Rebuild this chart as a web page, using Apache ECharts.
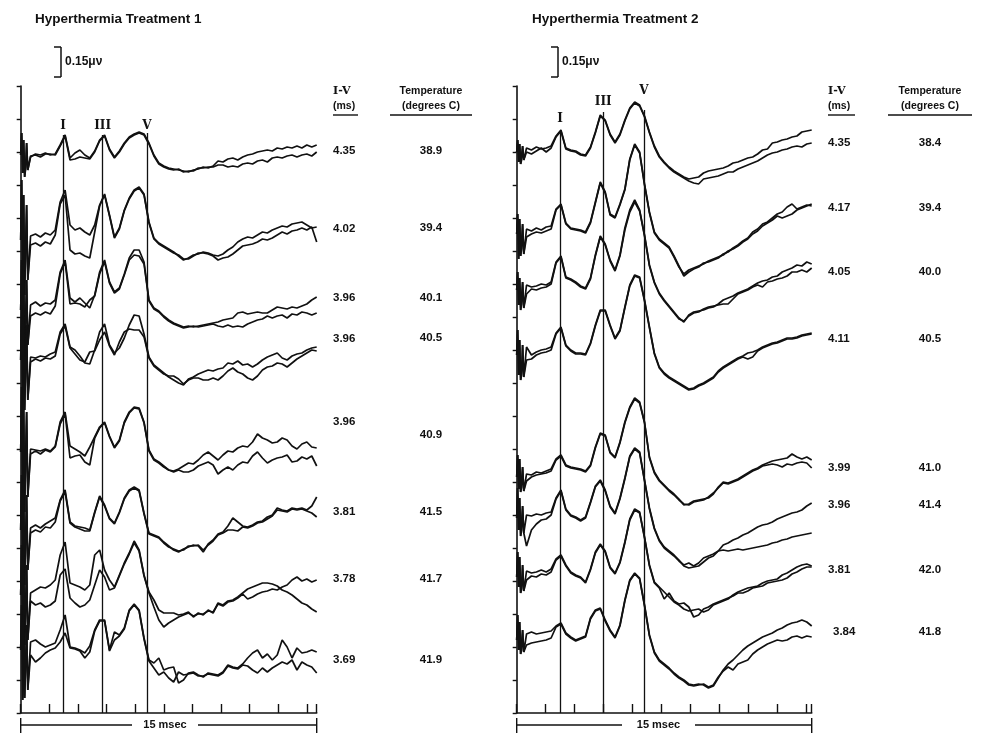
<!DOCTYPE html>
<html>
<head>
<meta charset="utf-8">
<title>Hyperthermia Treatment ABR traces</title>
<script src="https://cdn.jsdelivr.net/npm/echarts@6/dist/echarts.min.js"></script>
<style>
  html, body { margin: 0; background: #fff; }
  #chart { width: 981px; height: 737px; }
</style>
</head>
<body>
<div id="chart"></div>
<script>
// amplitudes are in units of 0.005 uV (the 0.15 uV bar = 30 units), sampled every 0.25 ms
const X_STEP = 0.25;
const ART_X = [0.05, 0.1, 0.15, 0.2, 0.3, 0.36]; // stimulus artifact samples, ms

const titles = ['Hyperthermia Treatment 1', 'Hyperthermia Treatment 2'];
const waveNames = ['I', 'III', 'V'];
const waveLatency1 = [2.15, 4.15, 6.4];
const waveLatency2 = [2.2, 4.4, 6.47];

const ivValues1 = ['4.35', '4.02', '3.96', '3.96', '3.96', '3.81', '3.78', '3.69'];
const tempValues1 = ['38.9', '39.4', '40.1', '40.5', '40.9', '41.5', '41.7', '41.9'];
const ivValues2 = ['4.35', '4.17', '4.05', '4.11', '3.99', '3.96', '3.81', '3.84'];
const tempValues2 = ['38.4', '39.4', '40.0', '40.5', '41.0', '41.4', '42.0', '41.8'];

// treatment 1, two overlaid recordings per temperature
const treatment1A = [
  [0,-12,-2,1,0,2,0,1,10,20,-3,2,5,0,-3,4,15,20,6,-2,4,12,18,21,23,21,12,0,-8,-11,-13,-14,-15,-16,-17,-15,-14,-12,-13,-11,-6,-7,-4,-3,-5,-2,0,1,3,4,5,4,7,6,8,7,9,7,10,8,10],
  [0,-7,4,6,3,7,5,10,38,50,15,10,12,8,5,15,35,46,25,3,12,30,42,50,53,46,18,2,-3,-6,-9,-12,-16,-20,-18,-15,-14,-12,-13,-15,-16,-14,-10,-7,-2,1,3,2,5,8,7,10,12,14,13,16,17,18,15,12,13],
  [0,-8,5,8,4,7,6,10,38,50,12,8,12,7,2,15,38,50,28,18,22,36,52,60,60,48,10,2,-1,-6,-10,-13,-15,-17,-16,-17,-16,-15,-14,-13,-12,-10,-9,-8,-3,-2,-4,-3,-2,-3,-3,0,3,2,1,3,2,4,6,10,13],
  [0,-5,3,2,4,3,6,8,28,36,13,10,4,-3,-4,10,28,36,15,7,12,22,35,45,44,26,3,-5,-9,-13,-17,-20,-23,-25,-19,-17,-14,-12,-10,-11,-9,-8,-3,-4,-1,-5,-4,-7,-4,0,3,5,7,2,0,4,6,7,10,12,13],
  [0,-6,3,2,1,3,1,6,30,40,6,3,0,-4,5,15,25,30,16,5,12,30,40,45,44,30,2,-7,-10,-14,-18,-19,-17,-14,-11,-12,-8,-3,0,-4,-8,-3,1,0,4,6,5,10,18,14,12,9,10,14,12,6,3,8,10,5,4],
  [0,-8,2,5,2,6,9,12,30,40,8,4,3,2,0,18,34,25,12,7,18,32,40,43,40,17,-3,-5,-7,-12,-16,-20,-22,-19,-17,-15,-16,-22,-14,-10,-4,-2,4,12,8,4,3,5,8,9,13,15,22,20,19,22,21,22,20,24,33],
  [0,-10,2,5,8,7,10,15,40,53,12,10,8,5,10,40,45,25,15,8,20,32,42,54,45,20,3,-5,-15,-18,-18,-18,-20,-19,-17,-22,-18,-20,-15,-18,-8,-10,-6,-5,-2,2,6,8,10,12,12,11,9,5,3,0,-4,-8,-10,-14,-17],
  [0,-12,8,10,6,3,5,7,20,35,3,2,0,-3,4,20,30,30,0,18,15,22,40,46,40,12,-10,-13,-8,-20,-18,-17,-33,-30,-23,-22,-25,-27,-23,-24,-25,-22,-15,-17,-18,-14,-8,-3,0,-8,-4,-10,-5,10,3,-8,2,-3,-2,0,-2]
];
const treatment1B = [
  [0,-14,-1,0,-2,1,1,0,9,19,-5,-4,-2,-3,-4,3,14,19,5,-3,3,11,17,20,22,20,11,-1,-9,-12,-14,-15,-14,-17,-16,-16,-13,-13,-12,-12,-10,-10,-12,-11,-12,-9,-8,-9,-6,-5,-7,-3,-2,-3,-1,0,-2,0,1,-1,3],
  [0,-10,-5,-3,-6,-2,-4,5,36,45,-10,-14,-13,-16,-18,8,34,45,24,2,11,29,41,49,52,45,17,1,-4,-7,-10,-13,-15,-19,-19,-16,-13,-13,-14,-16,-20,-18,-17,-14,-10,-6,-5,-4,-2,1,0,2,5,8,6,9,10,12,10,13,-2],
  [0,-12,-6,-3,-5,-2,-4,4,36,48,6,7,6,3,10,14,36,48,27,17,21,35,50,55,54,46,9,1,-2,-7,-11,-14,-16,-18,-17,-16,-17,-16,-15,-14,-16,-17,-15,-17,-16,-17,-14,-12,-10,-9,-6,-8,-6,-5,-8,-4,-5,-2,-3,-5,-3],
  [0,-8,-2,1,-1,2,1,4,26,34,12,6,0,-2,8,9,20,28,14,5,18,28,31,30,30,23,2,-6,-10,-14,-16,-16,-19,-24,-20,-18,-18,-20,-20,-18,-20,-16,-11,-8,-12,-14,-18,-20,-16,-10,-7,-6,-3,-4,-7,-3,1,4,7,10,9],
  [0,-10,-2,1,-2,2,0,5,28,38,-6,-4,-3,-10,-13,14,24,29,15,4,11,29,39,44,43,29,1,-8,-11,-15,-18,-20,-18,-20,-20,-18,-14,-12,-10,-13,-22,-18,-15,-18,-13,-10,-11,-4,0,-6,-11,-8,-6,-5,-3,-10,-9,-5,-7,-4,-14],
  [0,-12,-3,0,-2,3,2,8,29,38,7,3,1,-1,-1,17,33,24,11,6,17,31,39,42,39,16,-4,-6,-8,-13,-17,-19,-21,-20,-16,-16,-15,-20,-15,-11,-5,-3,0,0,-1,3,2,4,7,8,11,14,20,19,18,21,20,21,19,17,13],
  [0,-14,-6,-10,-8,-12,-10,-6,20,26,-3,-8,-12,-10,-5,10,25,18,5,7,19,31,41,52,44,19,2,-12,-25,-32,-28,-25,-22,-20,-18,-21,-19,-19,-16,-17,-9,-11,-7,-6,-3,1,-4,-2,1,3,4,6,5,8,10,15,18,14,16,13,15],
  [0,-18,-5,-12,-8,-3,0,2,8,17,2,1,-1,-8,-2,19,29,29,-1,10,14,21,39,45,39,11,-11,-18,-25,-22,-28,-32,-22,-25,-24,-23,-26,-26,-24,-25,-26,-23,-16,-18,-19,-15,-16,-20,-23,-18,-22,-18,-15,-12,-14,-10,-20,-12,-15,-17,-23]
];
const artifact1 = [
  [22,-18,15,-22,12,-15], [60,-50,45,-55,35,-40], [50,-45,40,-50,30,-35], [55,-60,45,-50,35,-40],
  [65,-55,50,-60,40,-45], [55,-50,45,-55,35,-40], [50,-55,40,-50,30,-45], [45,-50,35,-48,25,-40]
];

// treatment 2
const treatment2A = [
  [0,-8,4,2,5,3,4,6,16,22,4,2,1,-2,-3,5,20,37,32,18,10,18,32,44,50,47,36,20,6,-4,-10,-15,-19,-22,-25,-27,-26,-25,-21,-19,-18,-17,-16,-14,-11,-10,-8,-6,-5,-2,2,3,9,10,12,13,15,16,20,21,22],
  [0,-15,5,3,6,4,7,8,25,30,11,6,5,4,2,12,32,52,42,20,17,30,45,75,90,82,50,22,2,-5,-9,-13,-22,-32,-42,-38,-35,-33,-29,-28,-26,-24,-20,-18,-14,-11,-7,-4,2,5,10,12,16,20,22,27,30,25,27,29,28],
  [0,-18,5,3,4,6,5,8,28,34,13,11,8,4,2,12,35,54,46,30,20,35,62,80,90,80,55,25,8,-3,-10,-16,-22,-28,-32,-25,-22,-21,-20,-18,-17,-14,-10,-8,-6,-3,-1,1,4,7,9,10,13,14,18,20,22,25,24,28,26],
  [0,-20,8,0,3,5,6,8,22,28,10,5,2,2,1,12,30,45,45,30,17,25,48,70,80,78,55,28,2,-12,-18,-22,-25,-28,-31,-34,-33,-30,-28,-25,-22,-16,-12,-9,-6,-3,-1,2,3,5,8,10,12,13,15,17,17,18,20,21,22],
  [0,-15,3,2,5,4,6,8,18,22,12,10,9,8,6,12,30,44,42,25,20,35,55,70,79,75,55,20,5,-3,-8,-13,-17,-22,-28,-27,-24,-23,-22,-21,-17,-10,-5,-6,-4,-2,1,4,7,9,12,14,16,17,18,19,23,20,18,20,17],
  [0,-12,3,2,4,3,5,6,20,28,9,3,1,-2,1,16,32,38,28,12,5,20,40,62,70,66,38,10,-10,-22,-29,-33,-37,-42,-48,-50,-49,-48,-44,-40,-38,-33,-27,-25,-22,-20,-17,-15,-12,-9,-7,-6,-4,-1,1,3,5,6,8,12,15],
  [0,-12,6,4,5,7,5,8,18,22,12,5,2,0,-5,8,25,33,26,10,4,15,35,58,68,65,40,12,-5,-10,-15,-20,-25,-28,-32,-34,-33,-32,-35,-33,-28,-26,-24,-22,-18,-15,-13,-11,-10,-9,-6,-4,-3,-2,2,4,7,10,12,13,11],
  [0,-13,6,8,6,7,8,9,14,17,7,3,0,2,4,22,30,32,20,10,3,15,40,60,67,62,35,5,-12,-20,-24,-28,-33,-37,-40,-44,-45,-44,-45,-48,-46,-38,-30,-24,-20,-15,-10,-6,-3,0,3,5,7,10,12,15,17,18,20,18,14]
];
const treatment2B = [
  [0,-10,0,-2,1,4,0,4,15,21,3,1,0,-3,-4,4,19,36,31,17,9,17,31,43,49,46,35,19,5,-5,-11,-16,-20,-23,-26,-29,-31,-32,-27,-26,-25,-24,-22,-20,-20,-17,-15,-13,-11,-9,-6,-3,-1,0,2,3,5,6,5,8,9],
  [0,-20,-3,0,2,1,3,5,24,29,10,5,4,3,1,11,31,51,41,19,16,29,44,74,89,81,49,21,1,-6,-10,-14,-23,-33,-40,-36,-34,-32,-30,-27,-25,-23,-21,-17,-15,-12,-8,-5,0,3,8,11,14,18,16,18,20,24,26,28,30],
  [0,-14,-4,1,0,2,3,6,27,33,12,10,7,3,1,11,34,53,45,29,19,34,60,78,88,79,54,24,7,-4,-11,-17,-23,-29,-31,-26,-23,-22,-19,-17,-16,-15,-14,-14,-9,-4,-2,0,3,5,3,8,9,11,12,14,18,18,20,18,22],
  [0,-15,-5,-4,0,2,3,5,21,27,9,4,1,1,0,11,29,44,44,29,16,24,47,69,79,77,54,27,1,-13,-19,-23,-26,-29,-32,-35,-34,-31,-29,-26,-23,-17,-13,-10,-7,-4,-2,-4,-2,4,7,9,11,12,14,16,16,17,19,20,21],
  [0,-10,-4,0,2,3,4,6,17,21,11,9,8,7,5,11,29,43,41,24,19,34,54,69,78,74,54,19,4,-4,-9,-14,-18,-23,-27,-28,-25,-24,-23,-20,-16,-11,-6,-7,-5,-3,0,3,6,8,11,12,13,12,10,13,12,14,15,14,9],
  [0,-20,-28,-12,-6,-2,-1,3,19,27,8,2,0,-3,0,15,31,37,27,11,4,19,39,61,69,65,37,9,-11,-23,-30,-34,-38,-43,-47,-45,-48,-45,-40,-38,-36,-33,-32,-33,-32,-31,-32,-31,-30,-29,-28,-27,-25,-24,-22,-21,-19,-18,-17,-16,-15],
  [0,-8,-3,1,0,3,2,5,17,21,11,4,1,-1,-6,7,24,32,25,9,3,14,34,57,67,64,39,11,-6,-11,-22,-16,-24,-27,-26,-30,-40,-38,-32,-30,-27,-25,-23,-21,-19,-16,-16,-14,-11,-10,-9,-6,-5,-4,-3,-1,3,5,8,10,10],
  [0,-10,-5,-3,-2,-1,0,2,13,16,6,2,-1,1,3,21,29,31,19,9,2,14,39,59,66,61,34,4,-13,-21,-25,-29,-34,-38,-41,-45,-46,-45,-44,-47,-45,-37,-31,-27,-30,-24,-22,-20,-14,-10,-7,-4,-2,0,-1,0,3,4,2,4,3]
];
const artifact2 = [
  [12,-10,8,-12,6,-8], [20,-25,15,-22,10,-20], [18,-15,12,-20,8,-18], [25,-20,15,-25,10,-22],
  [22,-12,18,-15,10,-14], [30,-12,20,-18,12,-15], [25,-10,20,-16,12,-14], [25,-10,18,-14,10,-12]
];

// layout (pixels / axis units), not data
const traceOffset1 = [558, 473, 403, 353, 261, 183, 118, 63];
const traceOffset2 = [561, 479, 423, 358, 236, 195, 136, 73];
const panels = [
  { left: 20.7, width: 296, axisShift: 3, tick: 1.45, titleX: 35, barX: 61, ivX: 333, tempX: 431,
    ivUnder: [333, 358], tempUnder: [390, 472], gap: [132, 198],
    ivY: [151, 229, 298, 339, 422, 512, 579, 660], tempY: [151, 228, 298, 338, 435, 512, 579, 660],
    labelY: [587, 587, 587], lineTop: [578, 578, 580] },
  { left: 516.7, width: 295, axisShift: 0, tick: 1.47, titleX: 532, barX: 558, ivX: 828, tempX: 930,
    ivUnder: [828, 855], tempUnder: [888, 972], gap: [622, 695],
    ivY: [143, 208, 272, 339, 468, 505, 570, 632], tempY: [143, 208, 272, 339, 468, 505, 570, 632],
    labelY: [594, 611, 622], lineTop: [582, 601, 603] }
];

const INK = '#111';
const SANS = '"Liberation Sans", Arial, Helvetica, sans-serif';
const SERIF = '"DejaVu Serif", "Liberation Serif", serif';

function buildLine(offset, amps, art) {
  const pts = amps.map((v, i) => [i * X_STEP, offset + v]);
  art.forEach((v, k) => pts.push([ART_X[k], offset + v]));
  return pts.sort((p, q) => p[0] - q[0]);
}

const datasets = [
  { a: treatment1A, b: treatment1B, art: artifact1, off: traceOffset1, lat: waveLatency1, iv: ivValues1, temp: tempValues1 },
  { a: treatment2A, b: treatment2B, art: artifact2, off: traceOffset2, lat: waveLatency2, iv: ivValues2, temp: tempValues2 }
];

const grid = [], xAxis = [], yAxis = [], series = [], graphic = [];

function txt(x, y, s, size, align, family) {
  graphic.push({ type: 'text', x: x, y: y, silent: true,
    style: { text: s, fill: INK, font: 'bold ' + size + 'px ' + (family || SANS), textAlign: align || 'left', textVerticalAlign: 'middle' } });
}
function seg(x1, y1, x2, y2, w) {
  graphic.push({ type: 'line', silent: true, shape: { x1: x1, y1: y1, x2: x2, y2: y2 }, style: { stroke: INK, lineWidth: w || 1.5 } });
}

panels.forEach((p, pi) => {
  const d = datasets[pi];
  grid.push({ left: p.left, top: 86, width: p.width, height: 627 });
  xAxis.push({
    gridIndex: pi, type: 'value', min: 0, max: 15, interval: p.tick,
    axisLine: { lineStyle: { color: INK, width: 1.6 } },
    axisTick: { inside: true, length: 9, lineStyle: { color: INK, width: 1.4 } },
    axisLabel: { show: false }, splitLine: { show: false }
  });
  yAxis.push({
    gridIndex: pi, type: 'value', min: 0, max: 627, interval: 33, offset: p.axisShift,
    axisLine: { show: true, lineStyle: { color: INK, width: 1.6 } },
    axisTick: { show: true, inside: false, length: 4, lineStyle: { color: INK, width: 1.4 } },
    axisLabel: { show: false }, splitLine: { show: false }
  });

  d.a.forEach((amps, t) => {
    [amps, d.b[t]].forEach(line => {
      series.push({
        type: 'line', xAxisIndex: pi, yAxisIndex: pi, symbol: 'none', silent: true,
        lineStyle: { color: INK, width: 1.7 }, data: buildLine(d.off[t], line, d.art[t])
      });
    });
  });

  // wave I, III, V markers
  series.push({
    type: 'scatter', xAxisIndex: pi, yAxisIndex: pi, symbolSize: 1, silent: true,
    itemStyle: { color: 'rgba(0,0,0,0)' },
    label: { show: true, position: 'inside', formatter: q => q.data[2], color: INK, opacity: 1,
      fontFamily: SERIF, fontWeight: 'bold', fontSize: 12 },
    data: waveNames.map((n, k) => [d.lat[k], p.labelY[k], n]),
    markLine: {
      silent: true, symbol: 'none', label: { show: false },
      lineStyle: { color: INK, width: 1.3, type: 'solid' },
      data: d.lat.map((x, k) => [{ coord: [x, p.lineTop[k]] }, { coord: [x, 0] }])
    }
  });

  // titles, scale bar, column headers and values
  txt(p.titleX, 19, titles[pi], 13.5);
  seg(p.barX - 7, 47, p.barX, 47); seg(p.barX, 47, p.barX, 77); seg(p.barX - 7, 77, p.barX, 77);
  txt(p.barX + 4, 62, '0.15\u03bc\u03bd', 12);
  txt(p.ivX, 91, 'I-V', 11, 'left', SERIF);
  txt(p.ivX, 106, '(ms)', 10.5);
  seg(p.ivUnder[0], 115, p.ivUnder[1], 115, 1.4);
  txt(p.tempX, 91, 'Temperature', 10.5, 'center');
  txt(p.tempX, 106, '(degrees C)', 10.5, 'center');
  seg(p.tempUnder[0], 115, p.tempUnder[1], 115, 1.4);
  d.iv.forEach((v, t) => txt(p.ivX + (pi === 1 && t === 7 ? 5 : 0), p.ivY[t], v, 11.5));
  d.temp.forEach((v, t) => txt(p.tempX, p.tempY[t], v, 11.5, 'center'));

  // 15 msec bar
  const x0 = p.left, x1 = p.left + p.width;
  seg(x0, 725, p.gap[0], 725, 1.4); seg(p.gap[1], 725, x1, 725, 1.4);
  seg(x0, 718, x0, 733, 1.4); seg(x1, 718, x1, 733, 1.4);
  txt((p.gap[0] + p.gap[1]) / 2, 725, '15 msec', 11, 'center');
});

const chart = echarts.init(document.getElementById('chart'), null, { renderer: 'canvas' });
chart.setOption({
  backgroundColor: '#fff',
  animation: false,
  grid: grid, xAxis: xAxis, yAxis: yAxis, series: series, graphic: graphic
});
</script>
</body>
</html>
